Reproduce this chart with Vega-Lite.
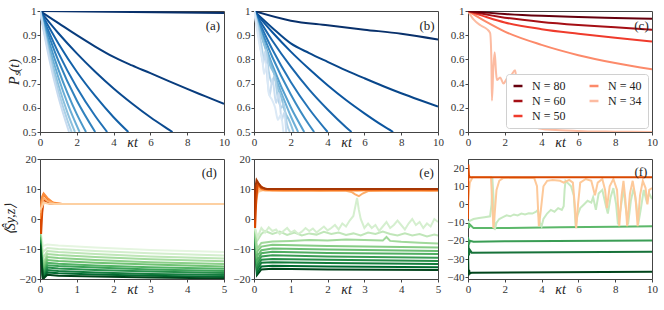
{
"$schema":"https://vega.github.io/schema/vega-lite/v6.json",
"background":"white",
"padding":{"left":3,"top":4,"right":2,"bottom":2},
"config":{
 "font":"Liberation Serif",
 "view":{"stroke":"#444","strokeWidth":1},
 "axis":{"labelFont":"Liberation Serif","labelFontSize":11,"labelColor":"#333","titleFont":"Liberation Serif","titleFontSize":14,"titleFontWeight":"normal","titleFontStyle":"italic","titleColor":"#222","tickColor":"#444","domainColor":"#444","tickSize":3,"labelPadding":1,"grid":false,"titlePadding":1,"labelOverlap":false,"labelFlush":false,"labelBound":false,"labelSeparation":-100},
 "legend":{"labelFont":"Liberation Serif"}
},
"datasets":{
"pa":[
{"t":0,"v":1,"s":"a01"},{"t":5,"v":0.996,"s":"a01"},{"t":10,"v":0.992,"s":"a01"},
{"t":0,"v":1,"s":"a02"},{"t":1,"v":0.95,"s":"a02"},{"t":2,"v":0.9,"s":"a02"},{"t":3,"v":0.853,"s":"a02"},{"t":4,"v":0.81,"s":"a02"},{"t":5,"v":0.775,"s":"a02"},{"t":6,"v":0.743,"s":"a02"},{"t":7,"v":0.71,"s":"a02"},{"t":8,"v":0.678,"s":"a02"},{"t":9,"v":0.647,"s":"a02"},{"t":10,"v":0.616,"s":"a02"},
{"t":0,"v":1,"s":"a03"},{"t":1,"v":0.908,"s":"a03"},{"t":2,"v":0.825,"s":"a03"},{"t":3,"v":0.749,"s":"a03"},{"t":4,"v":0.68,"s":"a03"},{"t":5,"v":0.618,"s":"a03"},{"t":6,"v":0.561,"s":"a03"},{"t":7,"v":0.51,"s":"a03"},{"t":7.2,"v":0.5,"s":"a03"},
{"t":0,"v":1,"s":"a04"},{"t":1,"v":0.866,"s":"a04"},{"t":2,"v":0.749,"s":"a04"},{"t":3,"v":0.649,"s":"a04"},{"t":4,"v":0.561,"s":"a04"},{"t":4.8,"v":0.5,"s":"a04"},
{"t":0,"v":1,"s":"a05"},{"t":1,"v":0.827,"s":"a05"},{"t":2,"v":0.684,"s":"a05"},{"t":3,"v":0.566,"s":"a05"},{"t":3.65,"v":0.5,"s":"a05"},
{"t":0,"v":1,"s":"a06"},{"t":1,"v":0.794,"s":"a06"},{"t":2,"v":0.63,"s":"a06"},{"t":3,"v":0.5,"s":"a06"},
{"t":0,"v":1,"s":"a07"},{"t":0.5,"v":0.871,"s":"a07"},{"t":1,"v":0.758,"s":"a07"},{"t":1.5,"v":0.66,"s":"a07"},{"t":2,"v":0.574,"s":"a07"},{"t":2.5,"v":0.5,"s":"a07"},
{"t":0,"v":1,"s":"a08"},{"t":0.5,"v":0.851,"s":"a08"},{"t":1,"v":0.725,"s":"a08"},{"t":1.5,"v":0.617,"s":"a08"},{"t":2.15,"v":0.5,"s":"a08"},
{"t":0,"v":1,"s":"a09"},{"t":0.5,"v":0.833,"s":"a09"},{"t":1,"v":0.694,"s":"a09"},{"t":1.5,"v":0.578,"s":"a09"},{"t":1.9,"v":0.5,"s":"a09"},
{"t":0,"v":1,"s":"a10"},{"t":0.5,"v":0.818,"s":"a10"},{"t":1,"v":0.668,"s":"a10"},{"t":1.5,"v":0.546,"s":"a10"},{"t":1.72,"v":0.5,"s":"a10"},
{"t":0,"v":1,"s":"a11"},{"t":0.5,"v":0.803,"s":"a11"},{"t":1,"v":0.645,"s":"a11"},{"t":1.58,"v":0.5,"s":"a11"}
],
"pb":[
{"t":0,"v":1,"s":"b01"},{"t":2,"v":0.96,"s":"b01"},{"t":4,"v":0.941,"s":"b01"},{"t":6,"v":0.923,"s":"b01"},{"t":8,"v":0.906,"s":"b01"},{"t":10,"v":0.882,"s":"b01"},
{"t":0,"v":1,"s":"b02"},{"t":1,"v":0.93,"s":"b02"},{"t":2,"v":0.866,"s":"b02"},{"t":3,"v":0.826,"s":"b02"},{"t":4,"v":0.79,"s":"b02"},{"t":5,"v":0.755,"s":"b02"},{"t":6,"v":0.722,"s":"b02"},{"t":7,"v":0.69,"s":"b02"},{"t":8,"v":0.66,"s":"b02"},{"t":9,"v":0.632,"s":"b02"},{"t":10,"v":0.605,"s":"b02"},
{"t":0,"v":1,"s":"b03"},{"t":1,"v":0.912,"s":"b03"},{"t":2,"v":0.832,"s":"b03"},{"t":3,"v":0.76,"s":"b03"},{"t":4,"v":0.693,"s":"b03"},{"t":5,"v":0.632,"s":"b03"},{"t":6,"v":0.577,"s":"b03"},{"t":7,"v":0.526,"s":"b03"},{"t":7.56,"v":0.5,"s":"b03"},
{"t":0,"v":1,"s":"b04"},{"t":1,"v":0.877,"s":"b04"},{"t":2,"v":0.77,"s":"b04"},{"t":3,"v":0.675,"s":"b04"},{"t":4,"v":0.593,"s":"b04"},{"t":5,"v":0.52,"s":"b04"},{"t":5.3,"v":0.5,"s":"b04"},
{"t":0,"v":1,"s":"b05"},{"t":1,"v":0.841,"s":"b05"},{"t":2,"v":0.707,"s":"b05"},{"t":3,"v":0.595,"s":"b05"},{"t":4,"v":0.5,"s":"b05"},
{"t":0,"v":1,"s":"b06"},{"t":1,"v":0.809,"s":"b06"},{"t":2,"v":0.655,"s":"b06"},{"t":3,"v":0.529,"s":"b06"},{"t":3.27,"v":0.5,"s":"b06"},
{"t":0,"v":1,"s":"b07"},{"t":1,"v":0.776,"s":"b07"},{"t":2,"v":0.602,"s":"b07"},{"t":2.73,"v":0.5,"s":"b07"},
{"t":0,"v":1,"s":"b08"},{"t":0.4,"v":0.9,"s":"b08"},{"t":0.8,"v":0.81,"s":"b08"},{"t":1.2,"v":0.72,"s":"b08"},{"t":1.6,"v":0.64,"s":"b08"},{"t":2.0,"v":0.565,"s":"b08"},{"t":2.4,"v":0.5,"s":"b08"},
{"t":0,"v":1,"s":"b09"},{"t":0.3,"v":0.92,"s":"b09"},{"t":0.6,"v":0.85,"s":"b09"},{"t":0.9,"v":0.77,"s":"b09"},{"t":1.1,"v":0.74,"s":"b09"},{"t":1.3,"v":0.68,"s":"b09"},{"t":1.5,"v":0.64,"s":"b09"},{"t":1.7,"v":0.58,"s":"b09"},{"t":1.9,"v":0.55,"s":"b09"},{"t":2.15,"v":0.5,"s":"b09"},
{"t":0,"v":1,"s":"b10"},{"t":0.2,"v":0.94,"s":"b10"},{"t":0.4,"v":0.86,"s":"b10"},{"t":0.55,"v":0.8,"s":"b10"},{"t":0.65,"v":0.84,"s":"b10"},{"t":0.8,"v":0.75,"s":"b10"},{"t":1.0,"v":0.7,"s":"b10"},{"t":1.1,"v":0.73,"s":"b10"},{"t":1.3,"v":0.64,"s":"b10"},{"t":1.5,"v":0.6,"s":"b10"},{"t":1.6,"v":0.62,"s":"b10"},{"t":1.8,"v":0.53,"s":"b10"},{"t":1.95,"v":0.5,"s":"b10"},
{"t":0,"v":1,"s":"b11"},{"t":0.2,"v":0.92,"s":"b11"},{"t":0.35,"v":0.85,"s":"b11"},{"t":0.5,"v":0.78,"s":"b11"},{"t":0.6,"v":0.83,"s":"b11"},{"t":0.75,"v":0.7,"s":"b11"},{"t":0.85,"v":0.65,"s":"b11"},{"t":1.0,"v":0.72,"s":"b11"},{"t":1.2,"v":0.62,"s":"b11"},{"t":1.35,"v":0.66,"s":"b11"},{"t":1.5,"v":0.55,"s":"b11"},{"t":1.65,"v":0.58,"s":"b11"},{"t":1.75,"v":0.5,"s":"b11"},
{"t":0,"v":1,"s":"b12"},{"t":0.15,"v":0.93,"s":"b12"},{"t":0.3,"v":0.86,"s":"b12"},{"t":0.45,"v":0.8,"s":"b12"},{"t":0.55,"v":0.74,"s":"b12"},{"t":0.7,"v":0.78,"s":"b12"},{"t":0.8,"v":0.66,"s":"b12"},{"t":1.0,"v":0.63,"s":"b12"},{"t":1.15,"v":0.6,"s":"b12"},{"t":1.3,"v":0.55,"s":"b12"},{"t":1.45,"v":0.57,"s":"b12"},{"t":1.6,"v":0.5,"s":"b12"}
],
"pc":[
{"t":0,"v":1,"s":"N = 34"},{"t":0.3,"v":0.93,"s":"N = 34"},{"t":0.7,"v":0.88,"s":"N = 34"},{"t":1.03,"v":0.85,"s":"N = 34"},{"t":1.2,"v":0.82,"s":"N = 34"},{"t":1.27,"v":0.6,"s":"N = 34"},{"t":1.3,"v":0.26,"s":"N = 34"},{"t":1.38,"v":0.54,"s":"N = 34"},{"t":1.45,"v":0.66,"s":"N = 34"},{"t":1.52,"v":0.5,"s":"N = 34"},{"t":1.57,"v":0.43,"s":"N = 34"},{"t":1.75,"v":0.45,"s":"N = 34"},{"t":1.93,"v":0.4,"s":"N = 34"},{"t":2.1,"v":0.44,"s":"N = 34"},{"t":2.35,"v":0.47,"s":"N = 34"},{"t":2.56,"v":0.51,"s":"N = 34"},{"t":2.65,"v":0.42,"s":"N = 34"},{"t":2.9,"v":0.39,"s":"N = 34"},{"t":3.2,"v":0.36,"s":"N = 34"},{"t":3.5,"v":0.35,"s":"N = 34"},{"t":3.7,"v":0.34,"s":"N = 34"},{"t":3.78,"v":0.2,"s":"N = 34"},{"t":3.82,"v":0.03,"s":"N = 34"},{"t":4.3,"v":0.02,"s":"N = 34"},{"t":5,"v":0.015,"s":"N = 34"},{"t":5.7,"v":0.01,"s":"N = 34"},{"t":6.5,"v":0.005,"s":"N = 34"},{"t":8,"v":0.003,"s":"N = 34"},{"t":10,"v":0,"s":"N = 34"},
{"t":0,"v":1,"s":"N = 40"},{"t":1,"v":0.91,"s":"N = 40"},{"t":2,"v":0.83,"s":"N = 40"},{"t":4,"v":0.72,"s":"N = 40"},{"t":6,"v":0.635,"s":"N = 40"},{"t":8,"v":0.57,"s":"N = 40"},{"t":10,"v":0.518,"s":"N = 40"},
{"t":0,"v":1,"s":"N = 50"},{"t":1,"v":0.95,"s":"N = 50"},{"t":2,"v":0.905,"s":"N = 50"},{"t":4,"v":0.85,"s":"N = 50"},{"t":6,"v":0.812,"s":"N = 50"},{"t":8,"v":0.778,"s":"N = 50"},{"t":10,"v":0.748,"s":"N = 50"},
{"t":0,"v":1,"s":"N = 60"},{"t":2,"v":0.945,"s":"N = 60"},{"t":4,"v":0.91,"s":"N = 60"},{"t":6,"v":0.885,"s":"N = 60"},{"t":8,"v":0.865,"s":"N = 60"},{"t":10,"v":0.845,"s":"N = 60"},
{"t":0,"v":1,"s":"N = 80"},{"t":2,"v":0.975,"s":"N = 80"},{"t":4,"v":0.96,"s":"N = 80"},{"t":6,"v":0.95,"s":"N = 80"},{"t":8,"v":0.942,"s":"N = 80"},{"t":10,"v":0.935,"s":"N = 80"}
],
"pd":[
{"t":0,"v":-3,"s":"g01"},{"t":0.04,"v":-6,"s":"g01"},{"t":0.08,"v":-9,"s":"g01"},{"t":0.2,"v":-8.5,"s":"g01"},{"t":0.5,"v":-8.8,"s":"g01"},{"t":1.5,"v":-9.5,"s":"g01"},{"t":3,"v":-10.3,"s":"g01"},{"t":5,"v":-11,"s":"g01"},
{"t":0,"v":-3.5,"s":"g02"},{"t":0.04,"v":-7.25,"s":"g02"},{"t":0.08,"v":-11,"s":"g02"},{"t":0.2,"v":-9.7,"s":"g02"},{"t":0.5,"v":-10,"s":"g02"},{"t":1.5,"v":-10.7,"s":"g02"},{"t":3,"v":-11.4,"s":"g02"},{"t":5,"v":-12.2,"s":"g02"},
{"t":0,"v":-4,"s":"g03"},{"t":0.04,"v":-8.5,"s":"g03"},{"t":0.08,"v":-13,"s":"g03"},{"t":0.2,"v":-10.7,"s":"g03"},{"t":0.5,"v":-11,"s":"g03"},{"t":1.5,"v":-11.7,"s":"g03"},{"t":3,"v":-12.5,"s":"g03"},{"t":5,"v":-13.2,"s":"g03"},
{"t":0,"v":-4.5,"s":"g04"},{"t":0.04,"v":-9.75,"s":"g04"},{"t":0.08,"v":-15,"s":"g04"},{"t":0.2,"v":-11.7,"s":"g04"},{"t":0.5,"v":-12,"s":"g04"},{"t":1.5,"v":-12.7,"s":"g04"},{"t":3,"v":-13.4,"s":"g04"},{"t":5,"v":-14.1,"s":"g04"},
{"t":0,"v":-5,"s":"g05"},{"t":0.04,"v":-10.5,"s":"g05"},{"t":0.08,"v":-16,"s":"g05"},{"t":0.2,"v":-12.7,"s":"g05"},{"t":0.5,"v":-13,"s":"g05"},{"t":1.5,"v":-13.7,"s":"g05"},{"t":3,"v":-14.4,"s":"g05"},{"t":5,"v":-15,"s":"g05"},
{"t":0,"v":-5.5,"s":"g06"},{"t":0.04,"v":-11.25,"s":"g06"},{"t":0.08,"v":-17,"s":"g06"},{"t":0.2,"v":-13.7,"s":"g06"},{"t":0.5,"v":-14,"s":"g06"},{"t":1.5,"v":-14.6,"s":"g06"},{"t":3,"v":-15.2,"s":"g06"},{"t":5,"v":-15.8,"s":"g06"},
{"t":0,"v":-6,"s":"g07"},{"t":0.04,"v":-12,"s":"g07"},{"t":0.08,"v":-18,"s":"g07"},{"t":0.2,"v":-14.6,"s":"g07"},{"t":0.5,"v":-14.9,"s":"g07"},{"t":1.5,"v":-15.5,"s":"g07"},{"t":3,"v":-16.1,"s":"g07"},{"t":5,"v":-16.6,"s":"g07"},
{"t":0,"v":-6.5,"s":"g08"},{"t":0.04,"v":-12.75,"s":"g08"},{"t":0.08,"v":-19,"s":"g08"},{"t":0.2,"v":-15.4,"s":"g08"},{"t":0.5,"v":-15.7,"s":"g08"},{"t":1.5,"v":-16.2,"s":"g08"},{"t":3,"v":-16.8,"s":"g08"},{"t":5,"v":-17.3,"s":"g08"},
{"t":0,"v":-7,"s":"g09"},{"t":0.04,"v":-13.25,"s":"g09"},{"t":0.08,"v":-19.5,"s":"g09"},{"t":0.2,"v":-16.2,"s":"g09"},{"t":0.5,"v":-16.5,"s":"g09"},{"t":1.5,"v":-17,"s":"g09"},{"t":3,"v":-17.5,"s":"g09"},{"t":5,"v":-18,"s":"g09"},
{"t":0,"v":-7.5,"s":"g10"},{"t":0.04,"v":-13.75,"s":"g10"},{"t":0.08,"v":-20,"s":"g10"},{"t":0.2,"v":-17,"s":"g10"},{"t":0.5,"v":-17.3,"s":"g10"},{"t":1.5,"v":-17.8,"s":"g10"},{"t":3,"v":-18.3,"s":"g10"},{"t":5,"v":-18.7,"s":"g10"},
{"t":0,"v":-8,"s":"g11"},{"t":0.04,"v":-14,"s":"g11"},{"t":0.08,"v":-20,"s":"g11"},{"t":0.2,"v":-17.8,"s":"g11"},{"t":0.5,"v":-18.1,"s":"g11"},{"t":1.5,"v":-18.5,"s":"g11"},{"t":3,"v":-18.9,"s":"g11"},{"t":5,"v":-19.3,"s":"g11"},
{"t":0,"v":-8.5,"s":"g12"},{"t":0.04,"v":-14.25,"s":"g12"},{"t":0.08,"v":-20,"s":"g12"},{"t":0.2,"v":-18.6,"s":"g12"},{"t":0.5,"v":-18.9,"s":"g12"},{"t":1.5,"v":-19.2,"s":"g12"},{"t":3,"v":-19.5,"s":"g12"},{"t":5,"v":-19.8,"s":"g12"},
{"t":0,"v":0,"s":"o1"},{"t":0.03,"v":-5,"s":"o1"},{"t":0.06,"v":2,"s":"o1"},{"t":0.1,"v":6.5,"s":"o1"},{"t":0.15,"v":6,"s":"o1"},{"t":0.25,"v":5.2,"s":"o1"},{"t":0.5,"v":5,"s":"o1"},{"t":5,"v":5,"s":"o1"},
{"t":0,"v":0,"s":"o2"},{"t":0.04,"v":6,"s":"o2"},{"t":0.08,"v":8,"s":"o2"},{"t":0.15,"v":7.5,"s":"o2"},{"t":0.25,"v":6,"s":"o2"},{"t":0.4,"v":5.2,"s":"o2"},{"t":0.6,"v":5,"s":"o2"},{"t":5,"v":5,"s":"o2"},
{"t":0,"v":0,"s":"o3"},{"t":0.05,"v":7,"s":"o3"},{"t":0.1,"v":8.5,"s":"o3"},{"t":0.2,"v":7,"s":"o3"},{"t":0.35,"v":5.5,"s":"o3"},{"t":0.6,"v":5,"s":"o3"},{"t":5,"v":5,"s":"o3"},
{"t":0,"v":2,"s":"o4"},{"t":0.05,"v":5,"s":"o4"},{"t":0.1,"v":7,"s":"o4"},{"t":0.2,"v":6,"s":"o4"},{"t":0.4,"v":5,"s":"o4"},{"t":5,"v":5,"s":"o4"},
{"t":0,"v":3,"s":"o5"},{"t":0.05,"v":4,"s":"o5"},{"t":0.1,"v":5.5,"s":"o5"},{"t":0.2,"v":5.2,"s":"o5"},{"t":0.4,"v":5,"s":"o5"},{"t":5,"v":5,"s":"o5"}
],
"pe":[
{"t":0,"v":0,"s":"g11"},{"t":0.04,"v":-9.35,"s":"g11"},{"t":0.08,"v":-18.7,"s":"g11"},{"t":0.2,"v":-16.8,"s":"g11"},{"t":0.5,"v":-16.6,"s":"g11"},{"t":2,"v":-16.8,"s":"g11"},{"t":5,"v":-17,"s":"g11"},
{"t":0,"v":0,"s":"g10"},{"t":0.04,"v":-9,"s":"g10"},{"t":0.08,"v":-18,"s":"g10"},{"t":0.2,"v":-15.8,"s":"g10"},{"t":0.5,"v":-15.6,"s":"g10"},{"t":2,"v":-15.8,"s":"g10"},{"t":5,"v":-16.1,"s":"g10"},
{"t":0,"v":0,"s":"g09"},{"t":0.04,"v":-8.5,"s":"g09"},{"t":0.08,"v":-17,"s":"g09"},{"t":0.2,"v":-14.6,"s":"g09"},{"t":0.5,"v":-14.4,"s":"g09"},{"t":2,"v":-14.7,"s":"g09"},{"t":5,"v":-15,"s":"g09"},
{"t":0,"v":0,"s":"g08"},{"t":0.04,"v":-8,"s":"g08"},{"t":0.08,"v":-16,"s":"g08"},{"t":0.2,"v":-13.6,"s":"g08"},{"t":0.5,"v":-13.3,"s":"g08"},{"t":2,"v":-13.6,"s":"g08"},{"t":5,"v":-14,"s":"g08"},
{"t":0,"v":0,"s":"g07"},{"t":0.04,"v":-7.5,"s":"g07"},{"t":0.08,"v":-15,"s":"g07"},{"t":0.2,"v":-12.5,"s":"g07"},{"t":0.5,"v":-12.1,"s":"g07"},{"t":2,"v":-12.5,"s":"g07"},{"t":5,"v":-12.9,"s":"g07"},
{"t":0,"v":0,"s":"g06"},{"t":0.04,"v":-7,"s":"g06"},{"t":0.08,"v":-14,"s":"g06"},{"t":0.2,"v":-11.4,"s":"g06"},{"t":0.5,"v":-10.9,"s":"g06"},{"t":2,"v":-11.3,"s":"g06"},{"t":5,"v":-11.7,"s":"g06"},
{"t":0,"v":0,"s":"g05"},{"t":0.04,"v":-6.25,"s":"g05"},{"t":0.08,"v":-12.5,"s":"g05"},{"t":0.2,"v":-10.4,"s":"g05"},{"t":0.5,"v":-9.8,"s":"g05"},{"t":2,"v":-10.2,"s":"g05"},{"t":5,"v":-10.7,"s":"g05"},
{"t":0,"v":0,"s":"g04"},{"t":0.04,"v":-5.5,"s":"g04"},{"t":0.08,"v":-11,"s":"g04"},{"t":0.2,"v":-9.2,"s":"g04"},{"t":0.5,"v":-8.6,"s":"g04"},{"t":2,"v":-9,"s":"g04"},{"t":5,"v":-9.5,"s":"g04"},
{"t":0,"v":0,"s":"g03"},{"t":0.04,"v":-5,"s":"g03"},{"t":0.08,"v":-10,"s":"g03"},{"t":0.2,"v":-8,"s":"g03"},{"t":0.5,"v":-7.5,"s":"g03"},{"t":1,"v":-7.3,"s":"g03"},{"t":1.5,"v":-7,"s":"g03"},{"t":2,"v":-7.2,"s":"g03"},{"t":2.5,"v":-6.8,"s":"g03"},{"t":3,"v":-7,"s":"g03"},{"t":3.5,"v":-7.2,"s":"g03"},{"t":3.6,"v":-6,"s":"g03"},{"t":3.7,"v":-7.3,"s":"g03"},{"t":4,"v":-7.6,"s":"g03"},{"t":4.5,"v":-7.9,"s":"g03"},{"t":5,"v":-8.2,"s":"g03"},
{"t":0,"v":-2,"s":"g02"},{"t":0.1,"v":-7,"s":"g02"},{"t":0.2,"v":-5,"s":"g02"},{"t":0.3,"v":-4,"s":"g02"},{"t":0.5,"v":-5,"s":"g02"},{"t":0.7,"v":-4.2,"s":"g02"},{"t":0.9,"v":-5.3,"s":"g02"},{"t":1.1,"v":-4.5,"s":"g02"},{"t":1.3,"v":-5.5,"s":"g02"},{"t":1.5,"v":-4.8,"s":"g02"},{"t":1.7,"v":-5.2,"s":"g02"},{"t":1.9,"v":-4.3,"s":"g02"},{"t":2.1,"v":-5,"s":"g02"},{"t":2.3,"v":-4.5,"s":"g02"},{"t":2.5,"v":-5.3,"s":"g02"},{"t":2.7,"v":-4.8,"s":"g02"},{"t":2.9,"v":-5.5,"s":"g02"},{"t":3.1,"v":-4.5,"s":"g02"},{"t":3.3,"v":-5,"s":"g02"},{"t":3.5,"v":-4.2,"s":"g02"},{"t":3.7,"v":-5,"s":"g02"},{"t":3.9,"v":-5.5,"s":"g02"},{"t":4.1,"v":-4.8,"s":"g02"},{"t":4.3,"v":-5.5,"s":"g02"},{"t":4.5,"v":-5,"s":"g02"},{"t":4.7,"v":-5.8,"s":"g02"},{"t":4.9,"v":-5.2,"s":"g02"},{"t":5,"v":-5.5,"s":"g02"},
{"t":0,"v":-2,"s":"g01"},{"t":0.05,"v":-4,"s":"g01"},{"t":0.1,"v":-6,"s":"g01"},{"t":0.2,"v":-3,"s":"g01"},{"t":0.3,"v":-4.5,"s":"g01"},{"t":0.4,"v":-2.8,"s":"g01"},{"t":0.5,"v":-4,"s":"g01"},{"t":0.6,"v":-3.5,"s":"g01"},{"t":0.7,"v":-5,"s":"g01"},{"t":0.8,"v":-4,"s":"g01"},{"t":0.9,"v":-3,"s":"g01"},{"t":1.0,"v":-4.5,"s":"g01"},{"t":1.1,"v":-3.8,"s":"g01"},{"t":1.2,"v":-5,"s":"g01"},{"t":1.3,"v":-4.2,"s":"g01"},{"t":1.4,"v":-3,"s":"g01"},{"t":1.5,"v":-4,"s":"g01"},{"t":1.6,"v":-3.2,"s":"g01"},{"t":1.7,"v":-4.5,"s":"g01"},{"t":1.8,"v":-3.5,"s":"g01"},{"t":1.9,"v":-2.5,"s":"g01"},{"t":2.0,"v":-3.8,"s":"g01"},{"t":2.1,"v":-3,"s":"g01"},{"t":2.2,"v":-2,"s":"g01"},{"t":2.3,"v":-3.5,"s":"g01"},{"t":2.4,"v":-1.5,"s":"g01"},{"t":2.5,"v":-2.5,"s":"g01"},{"t":2.6,"v":-0.5,"s":"g01"},{"t":2.7,"v":1,"s":"g01"},{"t":2.75,"v":4,"s":"g01"},{"t":2.8,"v":7,"s":"g01"},{"t":2.85,"v":3,"s":"g01"},{"t":2.9,"v":0,"s":"g01"},{"t":3.0,"v":-3,"s":"g01"},{"t":3.1,"v":-1.5,"s":"g01"},{"t":3.2,"v":-3,"s":"g01"},{"t":3.3,"v":-2,"s":"g01"},{"t":3.4,"v":-4,"s":"g01"},{"t":3.5,"v":-2.5,"s":"g01"},{"t":3.6,"v":-1,"s":"g01"},{"t":3.7,"v":-3,"s":"g01"},{"t":3.8,"v":-2,"s":"g01"},{"t":3.9,"v":-0.5,"s":"g01"},{"t":4.0,"v":-2,"s":"g01"},{"t":4.1,"v":-3.5,"s":"g01"},{"t":4.2,"v":-1.5,"s":"g01"},{"t":4.3,"v":0,"s":"g01"},{"t":4.4,"v":-2,"s":"g01"},{"t":4.5,"v":-1,"s":"g01"},{"t":4.6,"v":-3,"s":"g01"},{"t":4.7,"v":-1.5,"s":"g01"},{"t":4.8,"v":-2.5,"s":"g01"},{"t":4.9,"v":0,"s":"g01"},{"t":5.0,"v":-1,"s":"g01"},
{"t":0,"v":0,"s":"o6"},{"t":0.1,"v":9,"s":"o6"},{"t":0.3,"v":9.8,"s":"o6"},{"t":0.8,"v":9.5,"s":"o6"},{"t":1.3,"v":9.9,"s":"o6"},{"t":1.8,"v":9.4,"s":"o6"},{"t":2.3,"v":9.8,"s":"o6"},{"t":2.8,"v":9.3,"s":"o6"},{"t":3.3,"v":9.9,"s":"o6"},{"t":3.8,"v":9.5,"s":"o6"},{"t":4.3,"v":9.9,"s":"o6"},{"t":4.8,"v":9.4,"s":"o6"},{"t":5,"v":9.7,"s":"o6"},
{"t":0,"v":0,"s":"o5"},{"t":0.06,"v":7,"s":"o5"},{"t":0.12,"v":10,"s":"o5"},{"t":0.3,"v":9.5,"s":"o5"},{"t":1,"v":9.4,"s":"o5"},{"t":2,"v":9.5,"s":"o5"},{"t":2.5,"v":9.4,"s":"o5"},{"t":2.65,"v":9,"s":"o5"},{"t":2.75,"v":8.2,"s":"o5"},{"t":2.85,"v":7.6,"s":"o5"},{"t":2.95,"v":8.5,"s":"o5"},{"t":3.1,"v":9.3,"s":"o5"},{"t":4,"v":9.5,"s":"o5"},{"t":5,"v":9.4,"s":"o5"},
{"t":0,"v":0,"s":"o4"},{"t":0.05,"v":8,"s":"o4"},{"t":0.1,"v":11,"s":"o4"},{"t":0.25,"v":9.8,"s":"o4"},{"t":0.5,"v":9.6,"s":"o4"},{"t":5,"v":9.6,"s":"o4"},
{"t":0,"v":0,"s":"o3"},{"t":0.05,"v":9,"s":"o3"},{"t":0.1,"v":11.5,"s":"o3"},{"t":0.2,"v":10.2,"s":"o3"},{"t":0.4,"v":9.8,"s":"o3"},{"t":5,"v":9.8,"s":"o3"},
{"t":0,"v":0,"s":"o2"},{"t":0.03,"v":-3,"s":"o2"},{"t":0.06,"v":6,"s":"o2"},{"t":0.1,"v":12,"s":"o2"},{"t":0.18,"v":11,"s":"o2"},{"t":0.3,"v":10,"s":"o2"},{"t":5,"v":9.9,"s":"o2"},
{"t":0,"v":0,"s":"o1"},{"t":0.03,"v":10,"s":"o1"},{"t":0.07,"v":13,"s":"o1"},{"t":0.12,"v":12,"s":"o1"},{"t":0.2,"v":10.5,"s":"o1"},{"t":0.35,"v":10,"s":"o1"},{"t":5,"v":10,"s":"o1"}
],
"pf":[
{"t":0,"v":-26,"s":"g5"},{"t":0.03,"v":-39,"s":"g5"},{"t":0.06,"v":-36,"s":"g5"},{"t":0.1,"v":-38,"s":"g5"},{"t":0.2,"v":-37.5,"s":"g5"},{"t":10,"v":-37,"s":"g5"},
{"t":0,"v":-18,"s":"g4"},{"t":0.05,"v":-28,"s":"g4"},{"t":0.1,"v":-25,"s":"g4"},{"t":0.2,"v":-26.5,"s":"g4"},{"t":10,"v":-26,"s":"g4"},
{"t":0,"v":-18,"s":"g3"},{"t":0.05,"v":-22,"s":"g3"},{"t":0.1,"v":-20,"s":"g3"},{"t":0.3,"v":-20.5,"s":"g3"},{"t":2,"v":-20.2,"s":"g3"},{"t":10,"v":-19.8,"s":"g3"},
{"t":0,"v":-10,"s":"g2"},{"t":0.05,"v":-13,"s":"g2"},{"t":0.1,"v":-11,"s":"g2"},{"t":0.3,"v":-13,"s":"g2"},{"t":2,"v":-13,"s":"g2"},{"t":5,"v":-12.6,"s":"g2"},{"t":8,"v":-12.3,"s":"g2"},{"t":10,"v":-12,"s":"g2"},
{"t":0,"v":-10,"s":"g1"},{"t":0.1,"v":-9,"s":"g1"},{"t":0.3,"v":-8,"s":"g1"},{"t":0.6,"v":-7.5,"s":"g1"},{"t":0.9,"v":-7,"s":"g1"},{"t":1.2,"v":-6.5,"s":"g1"},{"t":1.28,"v":0,"s":"g1"},{"t":1.32,"v":15,"s":"g1"},{"t":1.38,"v":5,"s":"g1"},{"t":1.45,"v":-14,"s":"g1"},{"t":1.55,"v":-10,"s":"g1"},{"t":1.7,"v":-8,"s":"g1"},{"t":1.9,"v":-7,"s":"g1"},{"t":2.1,"v":-6,"s":"g1"},{"t":2.3,"v":-6.5,"s":"g1"},{"t":2.5,"v":-5.5,"s":"g1"},{"t":2.7,"v":-6,"s":"g1"},{"t":2.9,"v":-5,"s":"g1"},{"t":3.1,"v":-5.5,"s":"g1"},{"t":3.3,"v":-4.8,"s":"g1"},{"t":3.5,"v":-5,"s":"g1"},{"t":3.7,"v":-4,"s":"g1"},{"t":3.8,"v":-3,"s":"g1"},{"t":3.9,"v":-10,"s":"g1"},{"t":4.0,"v":-12,"s":"g1"},{"t":4.1,"v":-8,"s":"g1"},{"t":4.3,"v":-5,"s":"g1"},{"t":4.5,"v":-3,"s":"g1"},{"t":4.7,"v":-4,"s":"g1"},{"t":4.9,"v":-2,"s":"g1"},{"t":5.1,"v":-3,"s":"g1"},{"t":5.2,"v":-1,"s":"g1"},{"t":5.25,"v":8,"s":"g1"},{"t":5.3,"v":13,"s":"g1"},{"t":5.4,"v":12,"s":"g1"},{"t":5.6,"v":10,"s":"g1"},{"t":5.75,"v":5,"s":"g1"},{"t":5.85,"v":-12,"s":"g1"},{"t":5.95,"v":-6,"s":"g1"},{"t":6.1,"v":-2,"s":"g1"},{"t":6.3,"v":0,"s":"g1"},{"t":6.5,"v":2,"s":"g1"},{"t":6.7,"v":1,"s":"g1"},{"t":6.8,"v":4,"s":"g1"},{"t":6.95,"v":-3,"s":"g1"},{"t":7.1,"v":6,"s":"g1"},{"t":7.3,"v":8,"s":"g1"},{"t":7.5,"v":-1,"s":"g1"},{"t":7.6,"v":-5,"s":"g1"},{"t":7.75,"v":4,"s":"g1"},{"t":7.9,"v":9,"s":"g1"},{"t":8.05,"v":0,"s":"g1"},{"t":8.15,"v":-11,"s":"g1"},{"t":8.3,"v":-2,"s":"g1"},{"t":8.45,"v":9,"s":"g1"},{"t":8.55,"v":0,"s":"g1"},{"t":8.7,"v":-11,"s":"g1"},{"t":8.85,"v":2,"s":"g1"},{"t":9.0,"v":9,"s":"g1"},{"t":9.15,"v":0,"s":"g1"},{"t":9.25,"v":-11,"s":"g1"},{"t":9.4,"v":-2,"s":"g1"},{"t":9.55,"v":8,"s":"g1"},{"t":9.7,"v":2,"s":"g1"},{"t":9.85,"v":6,"s":"g1"},{"t":10,"v":3,"s":"g1"},
{"t":0,"v":2,"s":"o2"},{"t":0.1,"v":12,"s":"o2"},{"t":0.25,"v":15,"s":"o2"},{"t":1.25,"v":15,"s":"o2"},{"t":1.3,"v":5,"s":"o2"},{"t":1.38,"v":-13,"s":"o2"},{"t":1.45,"v":-5,"s":"o2"},{"t":1.55,"v":8,"s":"o2"},{"t":1.7,"v":13,"s":"o2"},{"t":1.9,"v":14.5,"s":"o2"},{"t":2.5,"v":14.7,"s":"o2"},{"t":3.0,"v":14.5,"s":"o2"},{"t":3.6,"v":14.5,"s":"o2"},{"t":3.75,"v":10,"s":"o2"},{"t":3.85,"v":-12,"s":"o2"},{"t":3.95,"v":-4,"s":"o2"},{"t":4.1,"v":10,"s":"o2"},{"t":4.3,"v":13,"s":"o2"},{"t":4.6,"v":13.5,"s":"o2"},{"t":5.0,"v":13,"s":"o2"},{"t":5.2,"v":12,"s":"o2"},{"t":5.5,"v":13.5,"s":"o2"},{"t":5.7,"v":12,"s":"o2"},{"t":5.8,"v":0,"s":"o2"},{"t":5.88,"v":-13,"s":"o2"},{"t":5.98,"v":0,"s":"o2"},{"t":6.1,"v":12,"s":"o2"},{"t":6.4,"v":14,"s":"o2"},{"t":6.7,"v":13,"s":"o2"},{"t":6.9,"v":5,"s":"o2"},{"t":7.05,"v":12,"s":"o2"},{"t":7.3,"v":14,"s":"o2"},{"t":7.45,"v":8,"s":"o2"},{"t":7.55,"v":-2,"s":"o2"},{"t":7.7,"v":10,"s":"o2"},{"t":7.9,"v":14,"s":"o2"},{"t":8.1,"v":8,"s":"o2"},{"t":8.22,"v":-12,"s":"o2"},{"t":8.35,"v":5,"s":"o2"},{"t":8.45,"v":13,"s":"o2"},{"t":8.55,"v":3,"s":"o2"},{"t":8.65,"v":-12,"s":"o2"},{"t":8.8,"v":6,"s":"o2"},{"t":8.95,"v":13,"s":"o2"},{"t":9.1,"v":4,"s":"o2"},{"t":9.22,"v":-12,"s":"o2"},{"t":9.35,"v":5,"s":"o2"},{"t":9.5,"v":13,"s":"o2"},{"t":9.65,"v":9,"s":"o2"},{"t":9.75,"v":0,"s":"o2"},{"t":9.85,"v":8,"s":"o2"},{"t":10,"v":9,"s":"o2"},
{"t":0,"v":-8,"s":"o1"},{"t":0.02,"v":22,"s":"o1"},{"t":0.05,"v":16,"s":"o1"},{"t":0.1,"v":15,"s":"o1"},{"t":10,"v":15,"s":"o1"}
]
},
"spacing":2,
"resolve":{"scale":{"x":"independent","y":"independent","color":"independent"}},
"vconcat":[
{"hconcat":[
 {"width":184,"height":121,"layer":[
  {"data":{"name":"pa"},"mark":{"type":"line","strokeWidth":2,"interpolate":"monotone","clip":true},
   "encoding":{
    "x":{"field":"t","type":"quantitative","scale":{"domain":[0,10],"nice":false},"axis":{"values":[0,2,4,6,8,10],"tickCount":6,"labelOverlap":false,"title":"κt","titleY":3,"titleBaseline":"top"}},
    "y":{"field":"v","type":"quantitative","scale":{"domain":[0.5,1],"nice":false,"zero":false},"axis":{"values":[0.5,0.6,0.7,0.8,0.9,1],"tickCount":6,"labelOverlap":false,"format":"~g","title":"Pₛ(t)"}},
    "color":{"field":"s","type":"nominal","scale":{"domain":["a01","a02","a03","a04","a05","a06","a07","a08","a09","a10","a11"],"range":["#08306b","#083c7d","#0a4a90","#1361a8","#2171b5","#3182bd","#4a98c9","#6aaed6","#8cc0dd","#abd0e6","#c8dcf0"]},"legend":null}}},
  {"data":{"values":[{"label":"(a)"}]},"mark":{"type":"text","font":"Liberation Serif","fontSize":13,"color":"#222"},
   "encoding":{"x":{"datum":9.4},"y":{"datum":0.94},"text":{"field":"label"}}}
 ]},
 {"width":184,"height":121,"layer":[
  {"data":{"name":"pb"},"mark":{"type":"line","strokeWidth":2,"interpolate":"monotone","clip":true},
   "encoding":{
    "x":{"field":"t","type":"quantitative","scale":{"domain":[0,10],"nice":false},"axis":{"values":[0,2,4,6,8,10],"tickCount":6,"labelOverlap":false,"title":"κt","titleY":3,"titleBaseline":"top"}},
    "y":{"field":"v","type":"quantitative","scale":{"domain":[0.5,1],"nice":false,"zero":false},"axis":{"values":[0.5,0.6,0.7,0.8,0.9,1],"tickCount":6,"labelOverlap":false,"format":"~g","title":null}},
    "color":{"field":"s","type":"nominal","scale":{"domain":["b01","b02","b03","b04","b05","b06","b07","b08","b09","b10","b11","b12"],"range":["#08306b","#08468a","#0b559f","#1864aa","#2474b7","#3a8ac2","#539ecd","#6fb0d7","#8fc2de","#afd1e7","#c9ddf0","#dbe9f6"]},"legend":null}}},
  {"data":{"values":[{"label":"(b)"}]},"mark":{"type":"text","font":"Liberation Serif","fontSize":13,"color":"#222"},
   "encoding":{"x":{"datum":9.4},"y":{"datum":0.94},"text":{"field":"label"}}}
 ]},
 {"width":184,"height":121,"layer":[
  {"data":{"name":"pc"},"mark":{"type":"line","strokeWidth":2,"interpolate":"monotone","clip":true},
   "encoding":{
    "x":{"field":"t","type":"quantitative","scale":{"domain":[0,10],"nice":false},"axis":{"values":[0,2,4,6,8,10],"tickCount":6,"labelOverlap":false,"title":"κt","titleY":3,"titleBaseline":"top"}},
    "y":{"field":"v","type":"quantitative","scale":{"domain":[0,1],"nice":false},"axis":{"values":[0,0.2,0.4,0.6,0.8,1],"tickCount":6,"labelOverlap":false,"format":"~g","title":null}},
    "color":{"field":"s","type":"nominal","scale":{"domain":["N = 80","N = 60","N = 50","N = 40","N = 34"],"range":["#67000d","#a50f15","#ef3b2c","#fc8a6a","#fcbba1"]},
     "legend":{"orient":"bottom-right","columns":2,"symbolType":"stroke","symbolStrokeWidth":2.5,"symbolSize":80,"labelFont":"Liberation Serif","labelFontSize":12,"labelColor":"#222","fillColor":"white","strokeColor":"#d0d0d0","padding":6,"cornerRadius":3,"offset":4,"title":null,"columnPadding":18,"rowPadding":3,"labelOffset":8}}}},
  {"data":{"values":[{"label":"(c)"}]},"mark":{"type":"text","font":"Liberation Serif","fontSize":13,"color":"#222"},
   "encoding":{"x":{"datum":9.43},"y":{"datum":0.88},"text":{"field":"label"}}}
 ]}
],"spacing":30,"bounds":"flush","resolve":{"scale":{"x":"independent","y":"independent","color":"independent"}}},
{"hconcat":[
 {"width":184,"height":120,"layer":[
  {"data":{"name":"pd"},"mark":{"type":"line","strokeWidth":2,"clip":true},
   "encoding":{
    "x":{"field":"t","type":"quantitative","scale":{"domain":[0,5],"nice":false},"axis":{"values":[0,1,2,3,4,5],"tickCount":6,"labelOverlap":false,"title":"κt","titleY":3,"titleBaseline":"top"}},
    "y":{"field":"v","type":"quantitative","scale":{"domain":[-20,20],"nice":false},"axis":{"values":[-20,-10,0,10,20],"tickCount":5,"labelOverlap":false,"title":"⟨Ŝy,z⟩"}},
    "color":{"field":"s","type":"nominal","scale":{"domain":["g01","g02","g03","g04","g05","g06","g07","g08","g09","g10","g11","g12","o1","o2","o3","o4","o5"],"range":["#e5f5e0","#d3eecd","#bfe6b8","#a5db9f","#8bcf89","#70c274","#52b365","#3aa257","#278f4b","#147d3e","#036b31","#00441b","#d94801","#f16913","#fd8d3c","#fdae6b","#fdd0a2"]},"legend":null}}},
  {"data":{"values":[{"label":"(d)"}]},"mark":{"type":"text","font":"Liberation Serif","fontSize":13,"color":"#222"},
   "encoding":{"x":{"datum":4.6},"y":{"datum":15.4},"text":{"field":"label"}}}
 ]},
 {"width":184,"height":120,"layer":[
  {"data":{"name":"pe"},"mark":{"type":"line","strokeWidth":2,"clip":true},
   "encoding":{
    "x":{"field":"t","type":"quantitative","scale":{"domain":[0,5],"nice":false},"axis":{"values":[0,1,2,3,4,5],"tickCount":6,"labelOverlap":false,"title":"κt","titleY":3,"titleBaseline":"top"}},
    "y":{"field":"v","type":"quantitative","scale":{"domain":[-20,20],"nice":false},"axis":{"values":[-20,-10,0,10,20],"tickCount":5,"labelOverlap":false,"title":null}},
    "color":{"field":"s","type":"nominal","scale":{"domain":["g01","g02","g03","g04","g05","g06","g07","g08","g09","g10","g11","o1","o2","o3","o4","o5","o6"],"range":["#d5efcf","#c0e6b9","#a1d99b","#86cc85","#6bbd73","#50ae62","#3a9d55","#268c47","#137c3b","#006a2f","#00441b","#a63603","#d94801","#f16913","#fd8d3c","#fdae6b","#fdd0a2"]},"legend":null}}},
  {"data":{"values":[{"label":"(e)"}]},"mark":{"type":"text","font":"Liberation Serif","fontSize":13,"color":"#222"},
   "encoding":{"x":{"datum":4.69},"y":{"datum":15.4},"text":{"field":"label"}}}
 ]},
 {"width":184,"height":120,"layer":[
  {"data":{"name":"pf"},"mark":{"type":"line","strokeWidth":2,"clip":true},
   "encoding":{
    "x":{"field":"t","type":"quantitative","scale":{"domain":[0,10],"nice":false},"axis":{"values":[0,2,4,6,8,10],"tickCount":6,"labelOverlap":false,"title":"κt","titleY":3,"titleBaseline":"top"}},
    "y":{"field":"v","type":"quantitative","scale":{"domain":[-41,25],"nice":false},"axis":{"values":[-40,-30,-20,-10,0,10,20],"tickCount":7,"labelOverlap":false,"title":null}},
    "color":{"field":"s","type":"nominal","scale":{"domain":["g5","g4","g3","g2","g1","o1","o2"],"range":["#00441b","#17723a","#3a9d55","#5cb86a","#c7e9c0","#d94801","#fdc99a"]},"legend":null}}},
  {"data":{"values":[{"label":"(f)"}]},"mark":{"type":"text","font":"Liberation Serif","fontSize":13,"color":"#222"},
   "encoding":{"x":{"datum":9.4},"y":{"datum":18.1},"text":{"field":"label"}}}
 ]}
],"spacing":30,"bounds":"flush","resolve":{"scale":{"x":"independent","y":"independent","color":"independent"}}}
]
}
